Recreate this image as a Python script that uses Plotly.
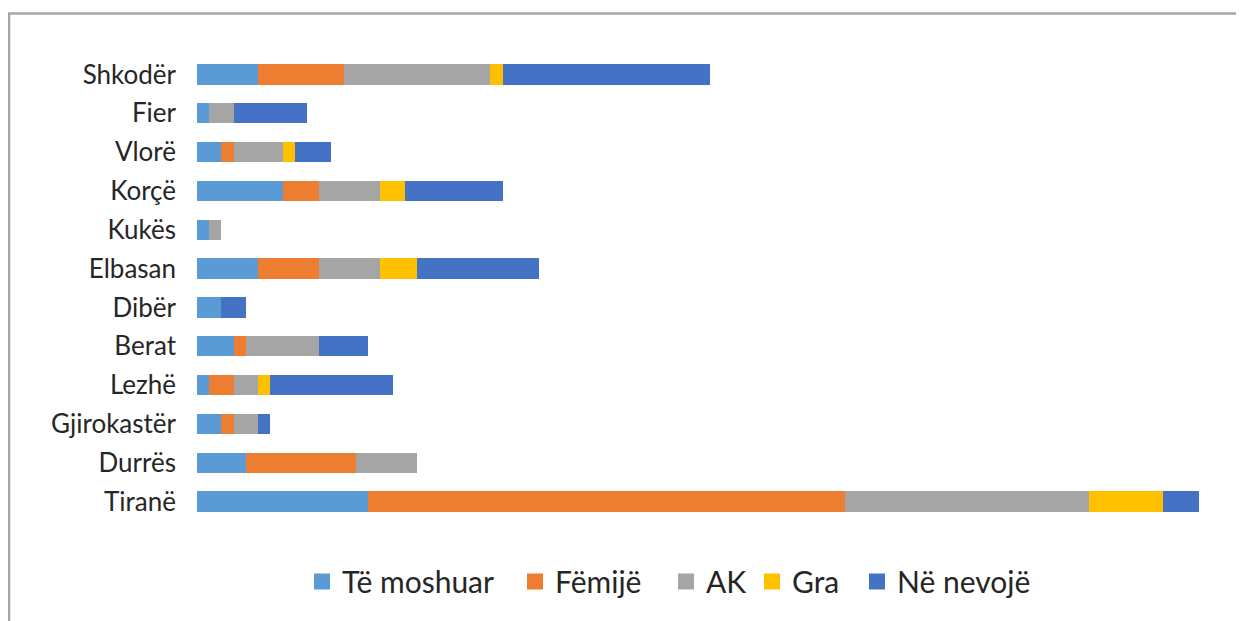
import plotly.graph_objects as go

cities = ["Tiranë", "Durrës", "Gjirokastër", "Lezhë", "Berat", "Dibër",
          "Elbasan", "Kukës", "Korçë", "Vlorë", "Fier", "Shkodër"]

te_moshuar = [14, 4, 2, 1, 3, 2, 5, 1, 7, 2, 1, 5]
femije     = [39, 9, 1, 2, 1, 0, 5, 0, 3, 1, 0, 7]
ak         = [20, 5, 2, 2, 6, 0, 5, 1, 5, 4, 2, 12]
gra        = [6, 0, 0, 1, 0, 0, 3, 0, 2, 1, 0, 1]
ne_nevoje  = [3, 0, 1, 10, 4, 2, 10, 0, 8, 3, 6, 17]

series = [
    ("Të moshuar", te_moshuar, "#5B9BD5"),
    ("Fëmijë", femije, "#ED7D31"),
    ("AK", ak, "#A5A5A5"),
    ("Gra", gra, "#FFC000"),
    ("Në nevojë", ne_nevoje, "#4472C4"),
]

W, H = 1236, 613
L, R = 189, 1195
T, B = 46.5, 513.5

# screen x of each legend marker's left edge in the reference
legend_marker_x = [314, 527, 678, 764, 869]
legend_ids = ["legend", "legend2", "legend3", "legend4", "legend5"]

fig = go.Figure()
for name, vals, color in series:
    fig.add_trace(go.Bar(
        y=cities, x=vals, name=name, orientation="h", legendgroup=name,
        showlegend=False,
        marker=dict(color=color, line=dict(width=0)),
    ))
for (name, vals, color), lid in zip(series, legend_ids):
    fig.add_trace(go.Scatter(
        x=[None], y=[None], mode="markers", name=name, legendgroup=name,
        marker=dict(symbol="square", size=16, color=color),
        showlegend=True, hoverinfo="skip", legend=lid,
    ))

legend_layout = {}
for lid, mx in zip(legend_ids, legend_marker_x):
    fx = mx - 8  # figure coords (page offset 8px)
    legend_layout[lid] = dict(
        orientation="h", x=(fx - 12 - L) / (R - L), xanchor="left",
        y=-0.13, yanchor="middle", bgcolor="rgba(0,0,0,0)",
        font=dict(size=30, family="Lato", color="#262626"),
        itemwidth=30,
    )

fig.update_layout(
    width=W, height=H,
    barmode="stack",
    bargap=0.48,
    plot_bgcolor="white", paper_bgcolor="white",
    margin=dict(l=L, r=W - R, t=T, b=H - B, pad=0),
    font=dict(family="Lato", color="#262626"),
    xaxis=dict(range=[0, 82.3], visible=False, fixedrange=True),
    yaxis=dict(categoryorder="array", categoryarray=cities,
               showgrid=False, zeroline=False, showline=False,
               ticks="", ticklabelstandoff=20,
               tickfont=dict(size=26, family="Lato", color="#262626")),
    showlegend=True,
    shapes=[dict(type="rect", xref="paper", yref="paper",
                 x0=(1 - L) / (R - L), x1=1.5,
                 y0=-0.5, y1=(B - 5) / (B - T),
                 line=dict(color="#A6A6A6", width=2.5),
                 fillcolor="rgba(0,0,0,0)", layer="below")],
    **legend_layout,
)

fig.write_html("out.html")
